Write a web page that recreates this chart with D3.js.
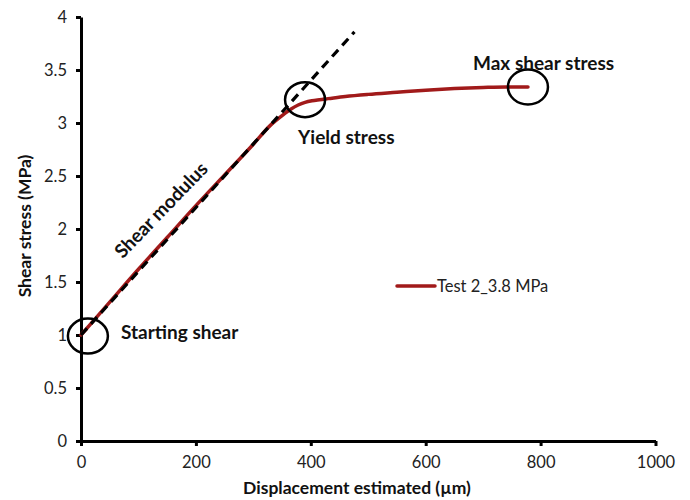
<!DOCTYPE html>
<html><head><meta charset="utf-8">
<script src="https://cdn.jsdelivr.net/npm/d3@7"></script>
<style>body{margin:0;background:#fff;} text{font-family:Lato,"Open Sans",sans-serif;}</style>
</head><body><svg id="c" width="690" height="500"></svg>
<script>
const xTicks = [0,200,400,600,800,1000];
const yTicks = [0,0.5,1,1.5,2,2.5,3,3.5,4];
const yTickLabels = ["0","0.5","1","1.5","2","2.5","3","3.5","4"];
const testX = [0,50,100,150,200,250,300,330,350,365,378,390,402,415,430,460,500,550,600,650,700,740,778];
const testY = [1,1.31,1.62,1.92,2.22,2.51,2.80,2.98,3.07,3.13,3.17,3.195,3.21,3.22,3.23,3.25,3.27,3.29,3.31,3.325,3.335,3.34,3.34];
const fitX = [0,476];
const fitY = [1,3.86];
const seriesName = "Test 2_3.8 MPa";
const circleX = [12,390,778];
const circleY = [0.99,3.22,3.34];
const annotations = ["Starting shear","Yield stress","Max shear stress","Shear modulus"];

const svg = d3.select("#c");
const x = d3.scaleLinear().domain([0,1000]).range([81,655.5]);
const y = d3.scaleLinear().domain([0,4]).range([441,17]);

const xAxis = d3.axisBottom(x).tickValues(xTicks).tickFormat(d3.format("d")).tickSize(5).tickSizeOuter(0).tickPadding(10);
const gx = svg.append("g").attr("transform","translate(0,441)").call(xAxis);
const yAxis = d3.axisLeft(y).tickValues(yTicks).tickFormat((d,i)=>yTickLabels[i]).tickSize(5).tickSizeOuter(0).tickPadding(9);
const gy = svg.append("g").attr("transform","translate(81,0)").call(yAxis);
[gx,gy].forEach(g=>{
  g.select(".domain").attr("stroke","#000").attr("stroke-width",3);
  g.selectAll(".tick line").attr("stroke","#000").attr("stroke-width",3);
  g.selectAll(".tick text").attr("fill","#222").style("font-size","16.5px").style("font-family","Lato, sans-serif");
});
gy.selectAll(".tick text").attr("dy","0.35em");

const line = d3.line().x(d=>x(d[0])).y(d=>y(d[1])).curve(d3.curveMonotoneX);
svg.append("path").datum(testX.map((v,i)=>[v,testY[i]]))
  .attr("d",line).attr("fill","none").attr("stroke","#a11a1a").attr("stroke-width",3.5).attr("stroke-linecap","round");
svg.append("path").datum(fitX.map((v,i)=>[v,fitY[i]]))
  .attr("d",d3.line().x(d=>x(d[0])).y(d=>y(d[1]))).attr("fill","none").attr("stroke","#000")
  .attr("stroke-width",3.2).attr("stroke-dasharray","9,6");

svg.selectAll("ellipse.c").data(circleX).enter().append("ellipse")
  .attr("cx",(d,i)=>x(d)).attr("cy",(d,i)=>y(circleY[i])).attr("rx",20).attr("ry",17.5)
  .attr("fill","none").attr("stroke","#000").attr("stroke-width",2.5);

const ann = [[121,332,0],[298,137,0],[473,63,0]];
ann.forEach((a,i)=>{
  svg.append("text").attr("x",a[0]).attr("y",a[1]).attr("dy","0.35em").text(annotations[i])
    .style("font-size","19px").style("font-weight","bold").attr("fill","#111");
});
svg.append("text").attr("transform","translate(161,210) rotate(-46)").attr("text-anchor","middle").attr("dy","0.35em")
  .text(annotations[3]).style("font-size","19px").style("font-weight","bold").attr("fill","#111");

svg.append("text").attr("transform","translate(25,226) rotate(-90)").attr("text-anchor","middle").attr("dy","0.35em")
  .text("Shear stress (MPa)").style("font-size","17.5px").style("font-weight","bold").attr("fill","#111");
svg.append("text").attr("x",357).attr("y",488).attr("text-anchor","middle").attr("dy","0.35em")
  .text("Displacement estimated (µm)").style("font-size","17.5px").style("font-weight","bold").attr("fill","#111");

svg.append("line").attr("x1",397).attr("x2",435).attr("y1",286).attr("y2",286).attr("stroke","#a11a1a").attr("stroke-width",3.5).attr("stroke-linecap","round");
svg.append("text").attr("x",437).attr("y",286).attr("dy","0.35em").text(seriesName).style("font-size","16.5px").attr("fill","#222");
</script></body></html>
